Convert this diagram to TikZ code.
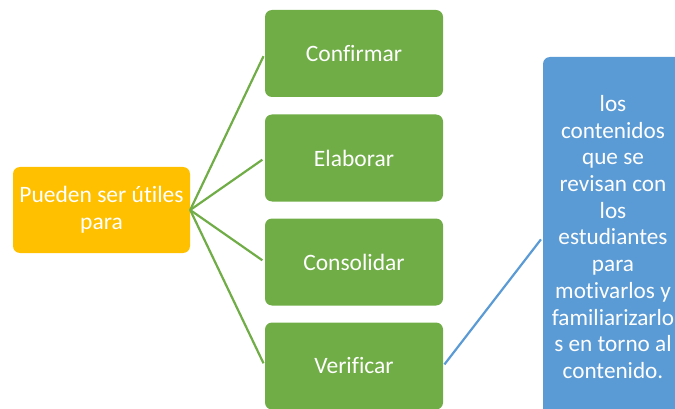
\documentclass[tikz,border=0pt]{standalone}
\usepackage{fontspec}
\setmainfont{Carlito}[Ligatures=NoCommon]
\definecolor{gOrange}{HTML}{FFC000}
\definecolor{gGreen}{HTML}{70AD47}
\definecolor{gBlue}{HTML}{5B9BD5}
\begin{document}
\begin{tikzpicture}[x=1pt,y=-1pt,
  boxbase/.style={rounded corners=7pt, inner sep=0pt, align=center, text=white,
    font=\fontsize{23.5}{27}\selectfont},
  ob/.style={boxbase, fill=gOrange, minimum width=177pt, minimum height=86pt},
  gb/.style={boxbase, fill=gGreen, minimum width=178pt, minimum height=87pt},
  bb/.style={boxbase, fill=gBlue, minimum width=140pt, minimum height=360pt,
    font=\fontsize{23.2}{26.7}\selectfont},
  gl/.style={draw=gGreen, line width=2.2pt, shorten >=3pt},
  bl/.style={draw=gBlue, line width=2.2pt, shorten <=2pt, shorten >=3pt}]
\useasboundingbox (0,0) rectangle (675,409);
\clip (0,0) rectangle (675,409);
\node[ob] (src) at (101.5,210) {Pueden ser útiles\\para};
\node[gb] (g1) at (354,53.5) {Confirmar};
\node[gb] (g2) at (354,158) {Elaborar};
\node[gb] (g3) at (354,262) {Consolidar};
\node[gb] (g4) at (354,366) {Verificar};
\node[bb] (b) at (613,237) {los\\contenidos\\que se\\revisan con\\los\\estudiantes\\para\\motivarlos y\\familiarizarlo\\s en torno al\\contenido.};
\foreach \g in {g1,g2,g3,g4} \draw[gl] (src.east) -- (\g.west);
\draw[bl] (g4.east) -- (b.west);
\end{tikzpicture}
\end{document}
